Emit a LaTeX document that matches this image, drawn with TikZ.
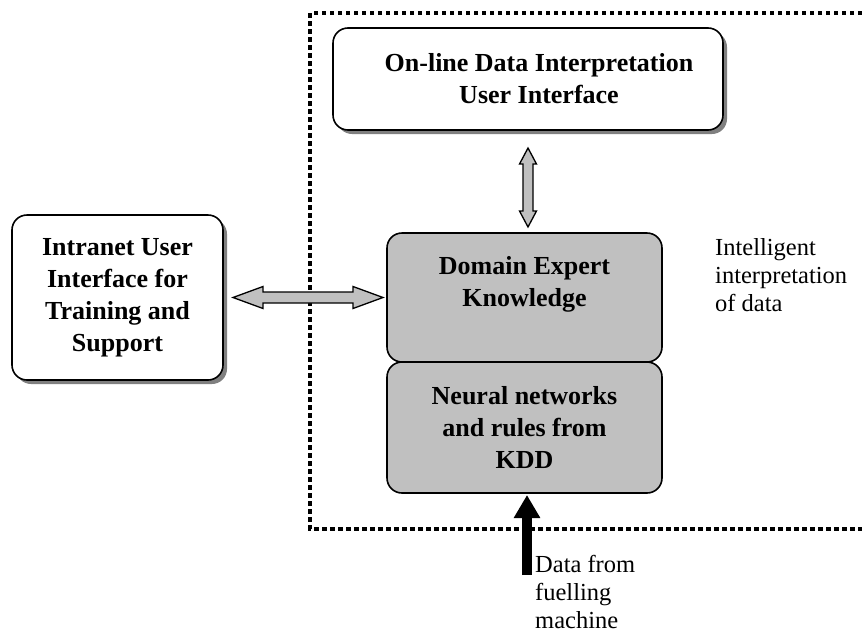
\documentclass[tikz,border=0pt]{standalone}
\usepackage{fontspec}
\setmainfont{Liberation Serif}
\usetikzlibrary{positioning,calc,shadows,arrows.meta}

\definecolor{boxgray}{HTML}{C0C0C0}
\definecolor{shadowgray}{HTML}{808080}

\tikzset{
  box/.style={draw, line width=1.6pt, rounded corners=15pt, align=center,
    outer sep=0pt, inner sep=0pt, font=\bfseries\fontsize{26}{32}\selectfont},
  uibox/.style={box, fill=white,
    drop shadow={shadow xshift=4pt, shadow yshift=-4pt, fill=shadowgray, opacity=1}},
  kbox/.style={box, fill=boxgray, minimum width=275pt},
  blockarr/.style={draw, line width=1.3pt, fill=boxgray, line join=miter},
  note/.style={align=left, inner sep=0pt, anchor=north west,
    font=\fontsize{24.5}{28}\selectfont},
  border/.style={line width=3.5pt, dash pattern=on 4.5pt off 3.5pt}
}

\begin{document}
\begin{tikzpicture}[x=1pt, y=-1pt]
  \useasboundingbox (0,0) rectangle (862,635);

  %the knowledge boxes, stacked
  \node[kbox, minimum height=129pt] (domain) at (524.5,297.5)
    {Domain Expert\\Knowledge\\\mbox{}};
  \node[kbox, minimum height=131pt, below=0pt of domain] (neural)
    {Neural networks\\and rules from\\KDD};

  %the two user interfaces
  \node[uibox, minimum width=390pt, minimum height=102pt] (onlineui) at (528,79)
    {\hspace*{22pt}On-line Data Interpretation\\\hspace*{22pt}User Interface};
  \node[uibox, minimum width=211pt, minimum height=165pt, left=164pt of domain] (intranetui)
    {Intranet User\\Interface for\\Training and\\Support};

  %dotted frame round the intelligent part (runs off the right edge)
  \coordinate (ftl) at (310,13);
  \coordinate (fbl) at (310,529);
  \draw[border] (862,13) -- (ftl) -- (fbl) -- (862,529);

  %double block arrows
  \coordinate (hl) at ($(intranetui.east)+(10,0)$);
  \coordinate (hr) at ($(domain.west)+(-4,0)$);
  \draw[blockarr] (hl) -- ++(30,-11) -- ++(0,5.5) -- ($(hr)+(-30,-5.5)$) -- ++(0,-5.5)
    -- (hr) -- ++(-30,11) -- ++(0,-5.5) -- ($(hl)+(30,5.5)$) -- ++(0,5.5) -- cycle;

  \coordinate (vt) at ($(onlineui.south)+(0,18)$);
  \coordinate (vb) at ($(onlineui.south |- domain.north)+(0,-6)$);
  \draw[blockarr] (vt) -- ++(-8.5,16) -- ++(3.5,0) -- ($(vb)+(-5,-16)$) -- ++(-3.5,0)
    -- (vb) -- ++(8.5,-16) -- ++(-3.5,0) -- ($(vt)+(5,16)$) -- ++(3.5,0) -- cycle;

  %data coming in from below
  \coordinate (fuel) at ($(neural.south)+(2.5,82)$);
  \draw[line width=10pt, -{Triangle[length=23pt, width=25pt]}, shorten >=2pt]
    (fuel) -- (fuel |- neural.south);

  %plain labels
  \node[note] (fueltxt) at (535,555) {Data from\\fuelling\\machine};
  \node[note] (smarttxt) at (715,238) {Intelligent\\interpretation\\of data};
\end{tikzpicture}
\end{document}
